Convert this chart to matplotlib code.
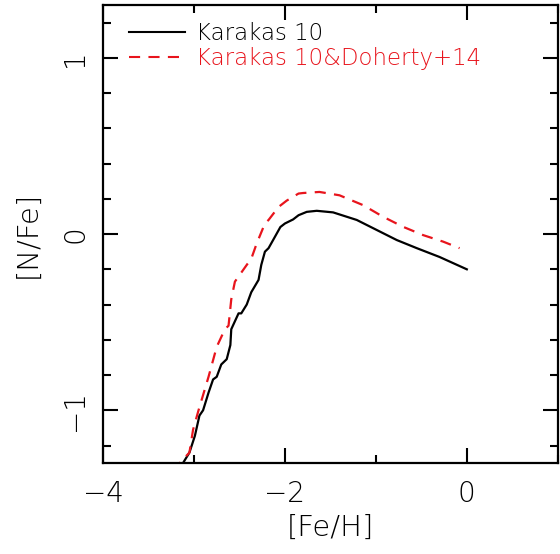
import matplotlib
matplotlib.use('Agg')
import matplotlib.pyplot as plt
from matplotlib.ticker import MultipleLocator

plt.rcParams['font.family'] = 'DejaVu Sans'
plt.rcParams['font.weight'] = 'light'
plt.rcParams['axes.labelweight'] = 'light'
plt.rcParams['lines.scale_dashes'] = False

# Karakas 10 (black, solid)
k10_feh = [-3.30, -3.05, -2.99, -2.94, -2.90, -2.84, -2.79, -2.75, -2.70, -2.64,
           -2.60, -2.59, -2.51, -2.48, -2.42, -2.37, -2.29, -2.26, -2.22, -2.18,
           -2.13, -2.05, -2.00, -1.91, -1.85, -1.76, -1.65, -1.47, -1.21, -0.99,
           -0.77, -0.55, -0.30, 0.00]
k10_nfe = [-1.45, -1.24, -1.145, -1.03, -1.00, -0.90, -0.825, -0.81, -0.74, -0.71,
           -0.63, -0.54, -0.45, -0.45, -0.40, -0.33, -0.26, -0.175, -0.10, -0.08,
           -0.034, 0.04, 0.06, 0.083, 0.107, 0.126, 0.132, 0.123, 0.08, 0.023,
           -0.034, -0.08, -0.13, -0.20]

# Karakas 10 & Doherty+14 (red, dashed)
kd_feh = [-3.30, -3.15, -3.05, -3.01, -2.95, -2.84, -2.75, -2.66, -2.62, -2.59,
          -2.55, -2.42, -2.37, -2.31, -2.22, -2.18, -2.07, -1.98, -1.85, -1.80,
          -1.62, -1.40, -1.14, -0.92, -0.70, -0.48, -0.26, -0.08]
kd_nfe = [-1.45, -1.295, -1.24, -1.11, -1.00, -0.81, -0.64, -0.54, -0.52, -0.37,
          -0.27, -0.175, -0.14, -0.053, 0.06, 0.08, 0.154, 0.19, 0.23, 0.233,
          0.239, 0.22, 0.164, 0.098, 0.041, -0.006, -0.043, -0.08]

red = '#e8141c'

fig = plt.figure(figsize=(5.6, 5.54), dpi=100)
ax = fig.add_axes([0.184, 0.164, 0.812, 0.827])

ax.plot(k10_feh, k10_nfe, color='black', lw=1.6)
ax.plot(kd_feh, kd_nfe, color=red, lw=1.6, dashes=(8, 6))

ax.set_xlim(-4, 1)
ax.set_ylim(-1.3, 1.3)
ax.xaxis.set_major_locator(MultipleLocator(2))
ax.xaxis.set_minor_locator(MultipleLocator(1))
ax.yaxis.set_major_locator(MultipleLocator(1))
ax.yaxis.set_minor_locator(MultipleLocator(0.2))
ax.tick_params(which='both', direction='in', top=True, right=True, width=1.5)
ax.tick_params(which='major', length=11)
ax.tick_params(which='minor', length=6)
ax.tick_params(axis='x', which='major', labelsize=20, pad=12)
ax.tick_params(axis='y', which='major', labelsize=20, pad=10)
for lab in ax.get_yticklabels():
    lab.set_rotation(90)
    lab.set_va('center')
for s in ax.spines.values():
    s.set_linewidth(1.6)

ax.set_xlabel('[Fe/H]', fontsize=21, labelpad=4)
ax.set_ylabel('[N/Fe]', fontsize=21, labelpad=14)

# legend drawn by hand
ax.plot([0.058, 0.180], [0.941, 0.941], transform=ax.transAxes, color='black', lw=1.5)
ax.text(0.205, 0.938, 'Karakas 10', transform=ax.transAxes, fontsize=16.5,
        va='center', ha='left', color='black')
ax.plot([0.058, 0.180], [0.886, 0.886], transform=ax.transAxes, color=red, lw=1.5,
        dashes=(8, 6))
ax.text(0.205, 0.883, 'Karakas 10&Doherty+14', transform=ax.transAxes, fontsize=16.5,
        va='center', ha='left', color=red)

fig.savefig('out.png', dpi=100)
